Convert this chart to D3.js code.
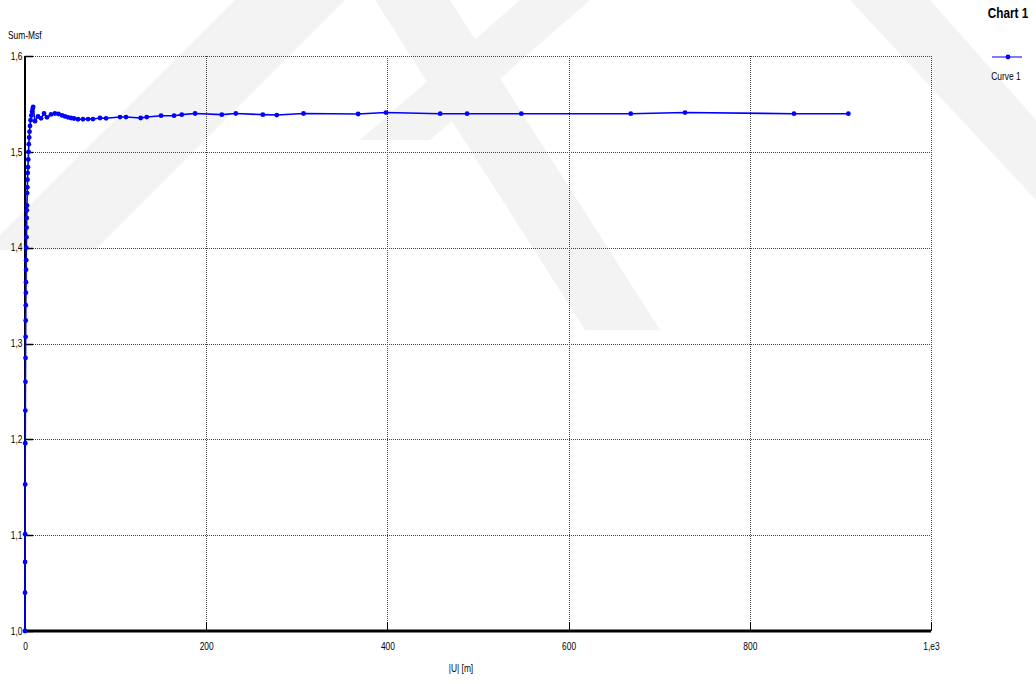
<!DOCTYPE html>
<html>
<head>
<meta charset="utf-8">
<script src="https://cdn.jsdelivr.net/npm/d3@7"></script>
<style>
  body { margin: 0; background: #fff; }
  text { font-family: "Liberation Sans", Arial, sans-serif; fill: #000; }
</style>
</head>
<body>
<svg id="chart" width="1036" height="684"></svg>
<script>
// |U| [m] values of Curve 1
const distance = [
  0, 0.05, 0.1, 0.15, 0.2, 0.3, 0.4, 0.5, 0.6, 0.7, 0.8, 0.9, 1.0, 1.1, 1.2, 1.3,
  1.45, 1.6, 1.75, 1.9, 2.05, 2.2, 2.4, 2.6, 2.8, 3.0, 3.3, 3.6, 3.9, 4.2, 4.6, 5.0,
  5.5, 6.2, 7.0, 7.8, 8.5, 9.0,
  11, 14.4, 17.7, 21, 24.3, 28.7, 33, 37, 40.9, 44.2, 47.5, 50.8, 54.1, 58.5, 64,
  69.6, 75, 82.8, 89.5, 104.9, 111.5, 127.7, 134.4, 150.2, 164.5, 173, 187.7,
  217.2, 232.7, 262.5, 277.9, 307.4, 367.7, 398.4, 458.3, 487.9, 547.8, 668.6,
  728.5, 848.8, 908.8
];
// Sum-Msf values of Curve 1
const sumMsf = [
  1.000, 1.040, 1.072, 1.101, 1.153, 1.196, 1.230, 1.260, 1.285, 1.307, 1.324, 1.340,
  1.353, 1.364, 1.377, 1.387, 1.400, 1.411, 1.421, 1.431, 1.439, 1.444, 1.457, 1.463,
  1.471, 1.478, 1.484, 1.492, 1.500, 1.508, 1.515, 1.521, 1.527, 1.533, 1.538, 1.542,
  1.545, 1.547,
  1.532, 1.537, 1.535, 1.540, 1.536, 1.539, 1.540, 1.5395, 1.538, 1.537, 1.536,
  1.5353, 1.5348, 1.534, 1.534, 1.5342, 1.5342, 1.5353, 1.535, 1.5363, 1.5363,
  1.5353, 1.5363, 1.5377, 1.5377, 1.5388, 1.540, 1.5388, 1.540, 1.5388, 1.5384,
  1.540, 1.5395, 1.541, 1.5398, 1.5398, 1.5398, 1.5398, 1.541, 1.5398, 1.5398
];
const xTicks = [0, 200, 400, 600, 800, 1000];
const xTickLabels = ["0", "200", "400", "600", "800", "1,e3"];
const yTicks = [1.0, 1.1, 1.2, 1.3, 1.4, 1.5, 1.6];
const yTickLabels = ["1,0", "1,1", "1,2", "1,3", "1,4", "1,5", "1,6"];
const seriesName = "Curve 1";
const chartTitle = "Chart 1";
const xTitle = "|U| [m]";
const yTitle = "Sum-Msf";

const svg = d3.select("#chart");
const plotL = 25, plotR = 931, plotT = 56, plotB = 631;
const narrow = 0.84; // horizontal squeeze giving a condensed face

// faint background watermark bands
const wm = svg.append("g").attr("fill", "#f3f3f3");
[
  [[235, 0], [345, 0], [95, 250], [-15, 250]],
  [[375, 0], [450, 0], [660, 330], [585, 330]],
  [[520, 0], [590, 0], [430, 140], [360, 140]],
  [[850, 0], [930, 0], [1036, 120], [1036, 200]]
].forEach(p => wm.append("polygon").attr("points", p.map(q => q.join(",")).join(" ")));

const x = d3.scaleLinear().domain([0, 1000]).range([plotL, plotR]);
const y = d3.scaleLinear().domain([1.0, 1.6]).range([plotB, plotT]);

// dotted grid
const grid = svg.append("g").attr("stroke", "#444").attr("stroke-width", 1)
  .attr("stroke-dasharray", "1,1").attr("shape-rendering", "crispEdges");
grid.selectAll(".gx").data(xTicks.slice(1)).join("line")
  .attr("x1", d => Math.round(x(d)) + 0.5).attr("x2", d => Math.round(x(d)) + 0.5)
  .attr("y1", plotT).attr("y2", plotB);
grid.selectAll(".gy").data(yTicks.slice(1)).join("line")
  .attr("x1", plotL).attr("x2", plotR)
  .attr("y1", d => Math.round(y(d)) + 0.5).attr("y2", d => Math.round(y(d)) + 0.5);

// x axis
const xAxis = d3.axisBottom(x).tickValues(xTicks).tickSize(0).tickPadding(12)
  .tickFormat((d, i) => xTickLabels[i]);
const gx = svg.append("g").attr("transform", `translate(0,${plotB})`).call(xAxis);
gx.select(".domain").remove();
gx.selectAll("text").attr("font-size", 10).attr("font-family", null)
  .attr("transform", `scale(${narrow},1)`);
svg.append("g").selectAll("line").data(xTicks).join("line")
  .attr("x1", d => Math.round(x(d)) + 0.5).attr("x2", d => Math.round(x(d)) + 0.5)
  .attr("y1", plotB - 9).attr("y2", plotB).attr("stroke", "#000").attr("stroke-width", 1);

// y axis
const yAxis = d3.axisLeft(y).tickValues(yTicks).tickSize(0).tickPadding(3)
  .tickFormat((d, i) => yTickLabels[i]);
const gy = svg.append("g").attr("transform", `translate(${plotL},0)`).call(yAxis);
gy.select(".domain").remove();
gy.selectAll("text").attr("font-size", 10).attr("font-family", null)
  .attr("transform", `scale(${narrow},1)`);
svg.append("g").selectAll("line").data(yTicks).join("line")
  .attr("x1", plotL).attr("x2", plotL + 8)
  .attr("y1", d => Math.round(y(d)) + 0.5).attr("y2", d => Math.round(y(d)) + 0.5)
  .attr("stroke", "#000").attr("stroke-width", 1.5);

svg.append("line").attr("x1", plotL).attr("x2", plotL).attr("y1", plotT).attr("y2", plotB)
  .attr("stroke", "#000").attr("stroke-width", 2);
svg.append("line").attr("x1", plotL).attr("x2", plotR).attr("y1", plotB).attr("y2", plotB)
  .attr("stroke", "#000").attr("stroke-width", 3);

// series
const pts = distance.map((d, i) => [d, sumMsf[i]]);
svg.append("path").datum(pts)
  .attr("fill", "none").attr("stroke", "#0000ff").attr("stroke-width", 1.6)
  .attr("d", d3.line().x(d => x(d[0])).y(d => y(d[1])));
svg.append("g").attr("fill", "#0000ff").selectAll("circle").data(pts).join("circle")
  .attr("cx", d => x(d[0])).attr("cy", d => y(d[1])).attr("r", 2.4);

// text placed at (px, py) with the condensed squeeze
function label(px, py, str, size, anchor, weight) {
  svg.append("text").attr("transform", `translate(${px},${py}) scale(${narrow},1)`)
    .attr("text-anchor", anchor || "start").attr("font-size", size)
    .attr("font-weight", weight || "normal").text(str);
}

// titles
label(8, 39, yTitle, 10);
label(461, 672, xTitle, 10, "middle");

// legend
label(1008, 18, chartTitle, 14, "middle", "bold");
svg.append("line").attr("x1", 992).attr("x2", 1022).attr("y1", 57).attr("y2", 57)
  .attr("stroke", "#5050ff").attr("stroke-width", 1.5);
svg.append("circle").attr("cx", 1008).attr("cy", 57).attr("r", 2.4).attr("fill", "#0000ff");
label(1006, 80, seriesName, 10, "middle");
</script>
</body>
</html>
